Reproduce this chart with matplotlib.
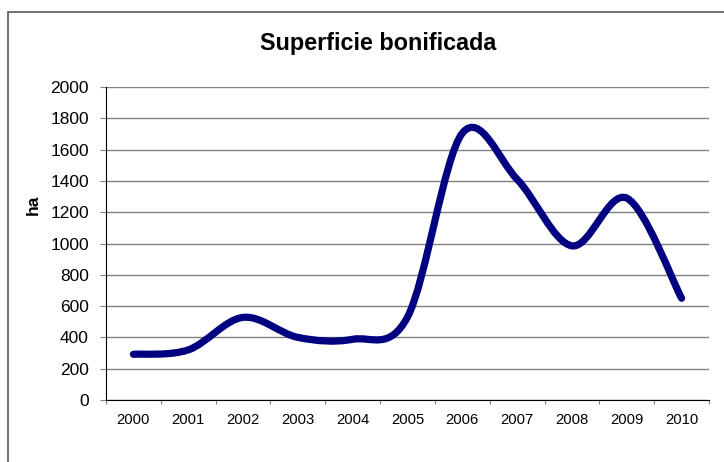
import numpy as np
import matplotlib
matplotlib.use("Agg")
import matplotlib.pyplot as plt
from matplotlib.path import Path
from matplotlib.patches import PathPatch, Rectangle

# Datos
anios = ['2000', '2001', '2002', '2003', '2004', '2005',
         '2006', '2007', '2008', '2009', '2010']
superficie = [292, 320, 528, 400, 388, 530, 1705, 1410, 985, 1290, 650]

plt.rcParams['font.family'] = ['Liberation Sans', 'DejaVu Sans']


# Curva suavizada tipo Excel (Bezier con tangentes Catmull-Rom)
def curva_suave(x, y):
    pts = np.column_stack([x, y]).astype(float)
    n = len(pts)
    verts = [pts[0]]
    codes = [Path.MOVETO]
    for i in range(n - 1):
        p0 = pts[max(i - 1, 0)]
        p1 = pts[i]
        p2 = pts[i + 1]
        p3 = pts[min(i + 2, n - 1)]
        c1 = p1 + (p2 - p0) / 6.0
        c2 = p2 - (p3 - p1) / 6.0
        verts += [c1, c2, p2]
        codes += [Path.CURVE4] * 3
    return Path(verts, codes)


fig = plt.figure(figsize=(7.24, 4.62), dpi=100)
ax = fig.add_axes([106 / 724, 62 / 462, 603 / 724, 313 / 462])

# Borde exterior del área del gráfico
fig.patches.append(Rectangle((8 / 724, -0.05), 1.1, (462 - 12) / 462 + 0.05,
                             transform=fig.transFigure, fill=False,
                             edgecolor='#595959', linewidth=1.2))

x = np.arange(len(anios))
ax.set_xlim(-0.5, len(anios) - 0.5)
ax.set_ylim(0, 2000)
ax.add_patch(PathPatch(curva_suave(x, superficie), fill=False,
                       edgecolor='#000080', linewidth=5.2,
                       capstyle='round', joinstyle='round'))

ax.set_yticks(np.arange(0, 2001, 200))
ax.set_xticks(x)
ax.set_xticklabels(anios, fontsize=10.7)
ax.set_xticks(np.arange(-0.5, len(anios), 1), minor=True)
ax.tick_params(axis='x', which='major', length=0, pad=9)
ax.tick_params(axis='x', which='minor', length=3, width=0.8, color='#808080')
ax.tick_params(axis='y', length=4.3, width=0.8, color='#808080', labelsize=12.5, pad=8)

ax.yaxis.grid(True, color='#808080', linewidth=1)
ax.set_axisbelow(True)
for lado in ['top', 'right']:
    ax.spines[lado].set_visible(False)
ax.spines['left'].set_color('black')
ax.spines['bottom'].set_color('black')

fig.text(33 / 724, 1 - 205 / 462, 'ha', rotation=90, ha='center', va='center',
         fontsize=12.5, fontweight='bold')
fig.text(378 / 724, 1 - 50 / 462, 'Superficie bonificada', ha='center', va='baseline',
         fontsize=16.8, fontweight='bold')

fig.savefig('out.png', dpi=100)
